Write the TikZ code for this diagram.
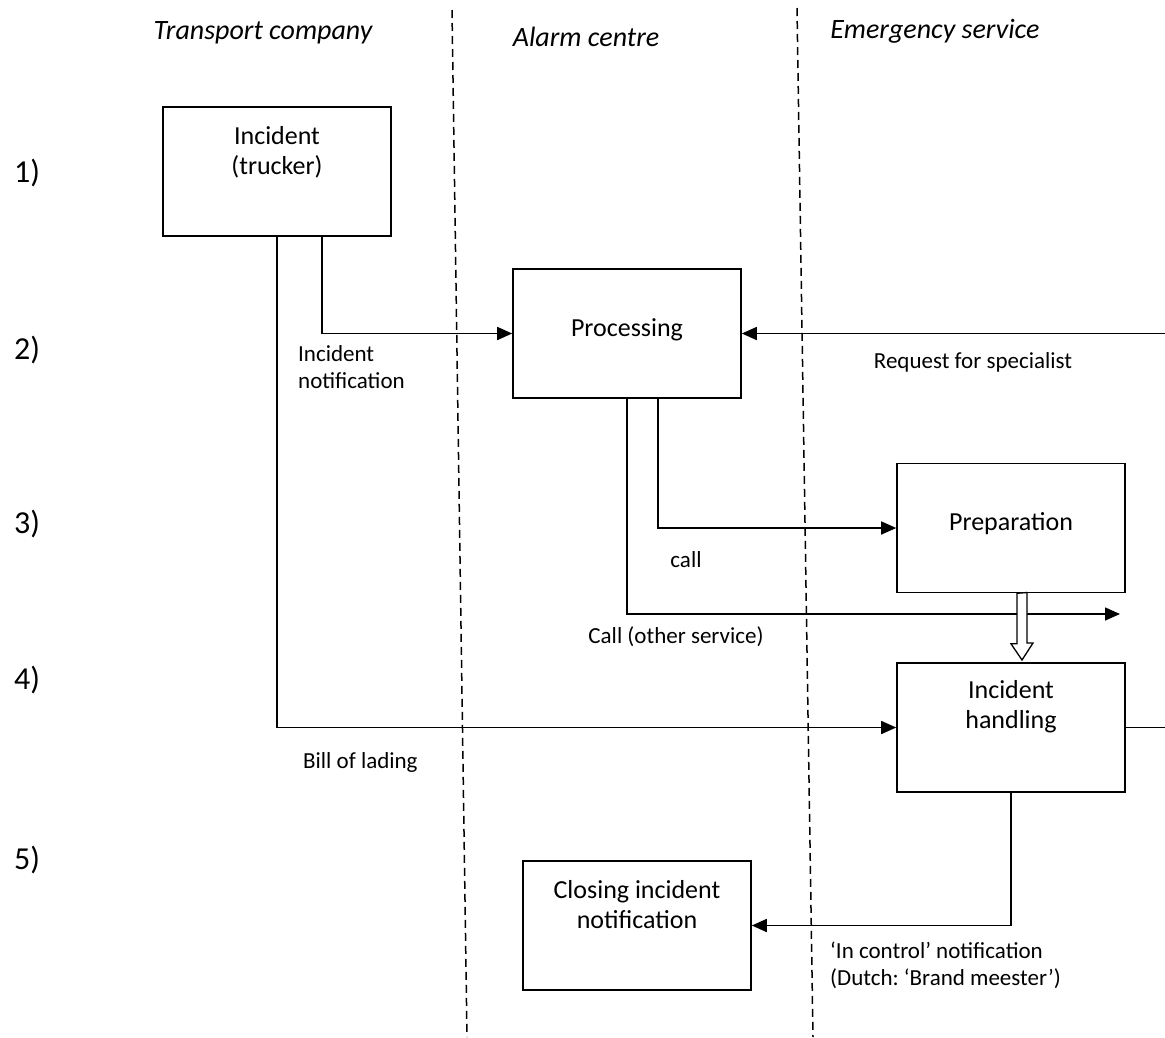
\documentclass[tikz,border=0pt]{standalone}
\usepackage{fontspec}
\setmainfont{Carlito}
\usetikzlibrary{arrows.meta,positioning}
\frenchspacing
\tikzset{
  box/.style={draw, line width=1.6pt, minimum width=228pt, minimum height=129pt, inner sep=0pt},
  boxtext/.style={font=\fontsize{26}{30}\selectfont, align=center, inner sep=0pt},
  lbl/.style={font=\fontsize{23}{27}\selectfont, align=left, inner sep=0pt},
  lanehead/.style={font=\fontsize{28}{32}\selectfont\itshape, inner sep=0pt},
  rowno/.style={font=\fontsize{32}{36}\selectfont, anchor=west, inner sep=0pt},
  lane/.style={line width=1.5pt, dash pattern=on 8pt off 5pt},
  flow/.style={line width=1.6pt, -{Triangle[length=15pt,width=13pt]}},
  plain/.style={line width=1.6pt}
}
\begin{document}
\begin{tikzpicture}[x=1pt, y=-1pt]
\useasboundingbox (0,0) rectangle (1165,1037);
% swim lanes
\draw[lane] (452,10) -- (467,1037);
\draw[lane] (797,8) -- (813,1037);
\node[lanehead] (hdtrans) at (263,33) {Transport company};
\node[lanehead] (hdalarm) at (586,37) {Alarm centre};
\node[lanehead] (hdemerg) at (935,31) {Emergency service};
% steps
\node[rowno] (r1) at (14,173) {1)};
\node[rowno] (r2) at (14,350) {2)};
\node[rowno] (r3) at (14,524) {3)};
\node[rowno] (r4) at (14,680) {4)};
\node[rowno] (r5) at (14,860) {5)};
% boxes
\node[box] (trucker) at (277,171.5) {};
\node[boxtext] (truckertxt) at (277,152) {Incident\\(trucker)};
\node[box] (proc) at (627,333.5) {};
\node[boxtext] (proctxt) at (627,330) {Processing};
\node[box] (prep) at (1011,528) {};
\node[boxtext] (preptxt) at (1011,524) {Preparation};
\node[box] (handle) at (1011,727.5) {};
\node[boxtext] (handletxt) at (1011,707) {Incident\\handling};
\node[box] (close) at (637,925.5) {};
\node[boxtext] (closetxt) at (637,905) {Closing incident\\notification};
\coordinate (reqin) at (1165,333.5);
\coordinate (otherout) at (1120,614);
\coordinate (handleout) at (1165,727.5);
% flows
\draw[flow] ([xshift=45pt]trucker.south) |- (proc.west);
\draw[flow] (trucker.south) |- (handle.west);
\draw[flow] (reqin) -- (proc.east);
\draw[flow] ([xshift=31pt]proc.south) |- (prep.west);
\draw[flow] (proc.south) |- (otherout);
\draw[plain] (handle.east) -- (handleout);
\draw[flow] (handle.south) |- (close.east);
\draw[line width=1.3pt, fill=white] ([xshift=6pt]prep.south) -- ++(0,50.5) -- ++(-6,0)
  -- (1022,660) -- (1033,643) -- ++(-6,0) -- ++(0,-50.5) -- cycle;
% labels
\node[lbl, anchor=west] (lnotif) at (298,367) {Incident\\notification};
\node[lbl] (lreq) at (973,362) {Request for specialist};
\node[lbl] (lcall) at (686,560) {call};
\node[lbl] (lother) at (676,637) {Call (other service)};
\node[lbl, anchor=west] (lbill) at (303,762) {Bill of lading};
\node[lbl, anchor=west] (lctrl) at (830,965) {`In control' notification\\(Dutch: `Brand meester')};
\end{tikzpicture}
\end{document}
